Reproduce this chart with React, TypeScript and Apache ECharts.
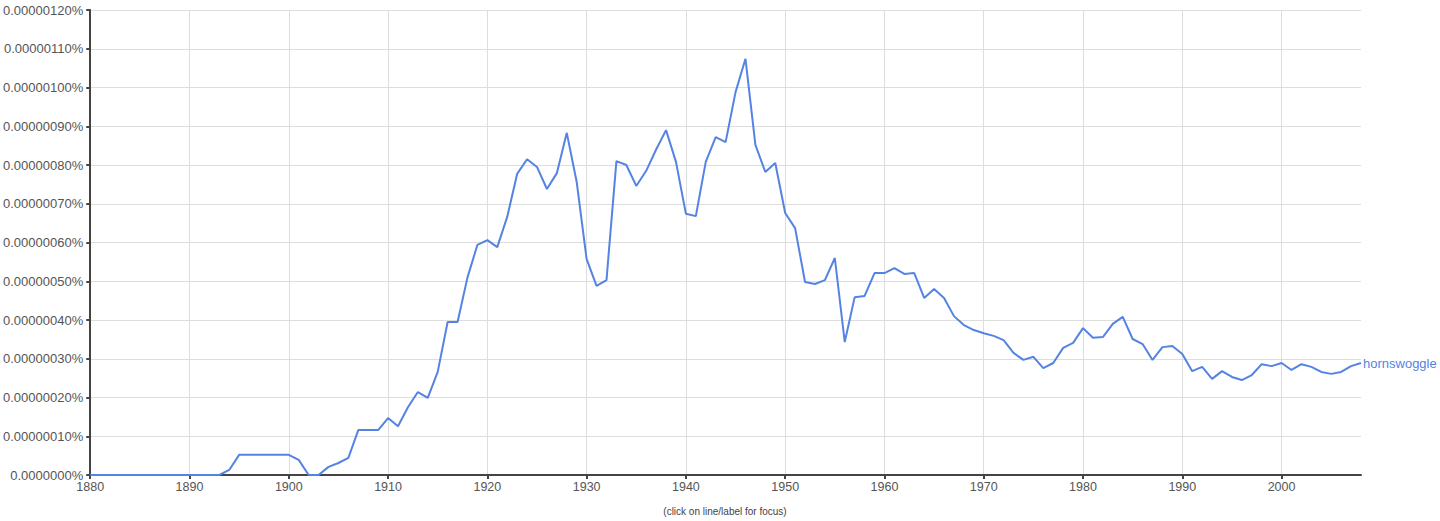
import React, { useEffect, useRef } from "react";
import * as echarts from "echarts";

// Years 1880..2008
const startYear = 1880;
// values in units of 0.00000001% (so 120 -> 0.00000120%)
const hornswoggle = [
  0, 0, 0, 0, 0, 0, 0, 0, 0, 0, // 1880-1889
  0, 0, 0, 0, 1.3, 5.2, 5.2, 5.2, 5.2, 5.2, // 1890-1899
  5.2, 3.9, 0, 0, 2.1, 3.1, 4.4, 11.6, 11.6, 11.6, // 1900-1909
  14.7, 12.6, 17.5, 21.4, 19.9, 26.6, 39.5, 39.5, 51.0, 59.4, // 1910-1919
  60.6, 58.8, 66.6, 77.7, 81.5, 79.5, 73.8, 77.9, 88.3, 75.6, // 1920-1929
  55.7, 48.8, 50.3, 81.0, 80.0, 74.6, 78.5, 84.0, 89.0, 80.8, // 1930-1939
  67.4, 66.8, 80.8, 87.2, 85.9, 98.8, 107.4, 85.2, 78.2, 80.5, // 1940-1949
  67.6, 63.7, 49.8, 49.3, 50.3, 56.0, 34.3, 45.9, 46.2, 52.1, // 1950-1959
  52.1, 53.4, 51.9, 52.1, 45.7, 48.0, 45.7, 41.0, 38.7, 37.4, // 1960-1969
  36.6, 35.9, 34.8, 31.5, 29.7, 30.5, 27.6, 28.9, 32.8, 34.1, // 1970-1979
  37.9, 35.4, 35.6, 39.0, 40.8, 35.1, 33.8, 29.7, 33.0, 33.3, // 1980-1989
  31.2, 26.8, 27.9, 24.8, 26.8, 25.3, 24.5, 25.8, 28.6, 28.1, // 1990-1999
  28.9, 27.1, 28.6, 27.9, 26.6, 26.1, 26.6, 28.1, 28.9, // 2000-2008
];
const seriesName = "hornswoggle";
const xTickValues = [1880, 1890, 1900, 1910, 1920, 1930, 1940, 1950, 1960, 1970, 1980, 1990, 2000];
const yTickLabels: Record<number, string> = {
  0: "0.0000000%",
  10: "0.00000010%",
  20: "0.00000020%",
  30: "0.00000030%",
  40: "0.00000040%",
  50: "0.00000050%",
  60: "0.00000060%",
  70: "0.00000070%",
  80: "0.00000080%",
  90: "0.00000090%",
  100: "0.00000100%",
  110: "0.00000110%",
  120: "0.00000120%",
};
const footnote = "(click on line/label for focus)";

const LINE_COLOR = "#5583e3";
const TEXT_COLOR = "#555555";
const FONT = "Arial, 'Liberation Sans', sans-serif";

export default function App() {
  const ref = useRef<HTMLDivElement>(null);
  useEffect(() => {
    if (!ref.current) return;
    const chart = echarts.init(ref.current, undefined, { renderer: "svg" });
    const data = hornswoggle.map((v, i) => [startYear + i, v]);
    chart.setOption({
      animation: false,
      backgroundColor: "#ffffff",
      grid: { left: 89, right: 79, top: 10, bottom: 46, containLabel: false },
      xAxis: {
        type: "value",
        min: 1880,
        max: 2008,
        interval: 10,
        axisLine: { show: true, onZero: false, lineStyle: { color: "#444", width: 2 } },
        axisTick: { show: true, length: 4, lineStyle: { color: "#444", width: 2 }, customValues: xTickValues },
        axisLabel: {
          color: TEXT_COLOR,
          fontSize: 12.5,
          fontFamily: FONT,
          margin: 5,
          customValues: xTickValues,
          formatter: (v: number) => String(v),
        },
        splitLine: { show: true, lineStyle: { color: "#dddddd", width: 1 } },
      },
      yAxis: {
        type: "value",
        min: 0,
        max: 120,
        interval: 10,
        axisLine: { show: true, lineStyle: { color: "#444", width: 2 } },
        axisTick: { show: true, length: 4, lineStyle: { color: "#444", width: 2 } },
        axisLabel: {
          color: TEXT_COLOR,
          fontSize: 13,
          fontFamily: FONT,
          margin: 7,
          formatter: (v: number) => yTickLabels[Math.round(v)] ?? "",
        },
        splitLine: { show: true, lineStyle: { color: "#dddddd", width: 1 } },
      },
      series: [
        {
          name: seriesName,
          type: "line",
          data,
          showSymbol: false,
          symbol: "none",
          lineStyle: { color: LINE_COLOR, width: 2 },
          itemStyle: { color: LINE_COLOR },
          endLabel: {
            show: true,
            formatter: seriesName,
            color: LINE_COLOR,
            fontSize: 13,
            fontFamily: FONT,
            distance: 2,
          },
          z: 3,
        },
      ],
      graphic: [
        {
          type: "text",
          x: 725,
          y: 506,
          style: {
            text: footnote,
            fill: "#444",
            fontSize: 10,
            fontFamily: FONT,
            align: "center",
          },
        },
      ],
    });
    return () => chart.dispose();
  }, []);
  return (
    <div
      ref={ref}
      style={{ position: "fixed", left: 0, top: 0, width: 1440, height: 521, background: "#fff" }}
    />
  );
}
